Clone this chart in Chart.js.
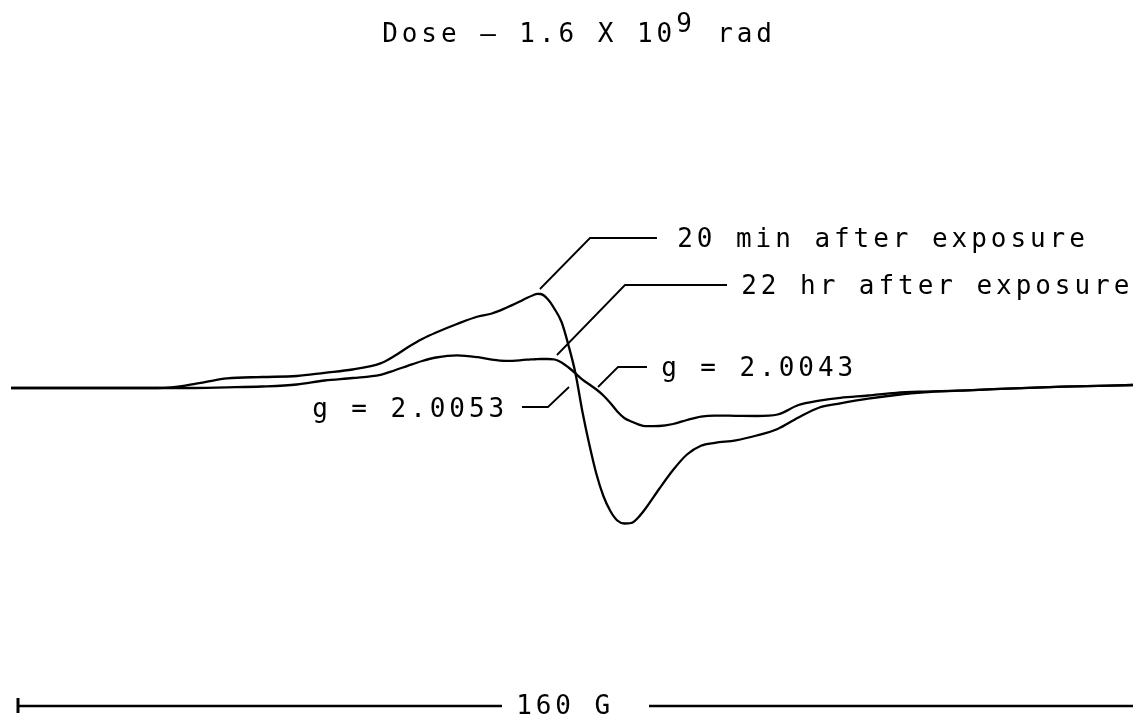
<!DOCTYPE html>
<html lang="en">
<head>
<meta charset="UTF-8">
<title>EPR spectrum - Dose 1.6 X 10^9 rad</title>
<script src="https://cdn.jsdelivr.net/npm/chart.js"></script>
<style>
  html, body { margin: 0; padding: 0; background: #fff; }
  #wrap { width: 1133px; height: 719px; }
</style>
</head>
<body>
<div id="wrap"><canvas id="epr"></canvas></div>
<script>
// magnetic field, G (0 = left end of the 160 G scale bar)
const field = [-1, 10, 20, 22, 24, 27, 30, 35, 40, 44, 48, 52, 54, 56, 58, 60, 63, 66, 68, 70, 72, 73, 74, 74.5, 75, 76, 77, 78, 79, 80, 81, 82, 83, 84, 85, 86, 87, 88, 89, 90, 92, 94, 96, 98, 100, 103, 106, 109, 112, 115, 118, 122, 126, 130, 135, 140, 150, 160];

// derivative signal, arbitrary units
const min20 = [0, 0, 0, 0.07, 0.24, 0.62, 0.96, 1.10, 1.20, 1.52, 1.85, 2.46, 3.2, 4.1, 4.9, 5.55, 6.4, 7.15, 7.45, 8.0, 8.65, 9.0, 9.3, 9.42, 9.4, 8.9, 7.9, 6.6, 4.25, 1.45, -2.4, -5.7, -8.6, -10.8, -12.3, -13.25, -13.55, -13.5, -12.95, -12.1, -10.1, -8.2, -6.65, -5.77, -5.48, -5.23, -4.75, -4.1, -2.95, -1.95, -1.54, -1.07, -0.7, -0.43, -0.27, -0.12, 0.13, 0.3];
const hr22 = [0, 0, 0, 0, 0, 0.02, 0.06, 0.15, 0.35, 0.75, 1.0, 1.32, 1.75, 2.24, 2.7, 3.05, 3.27, 3.08, 2.84, 2.72, 2.77, 2.83, 2.87, 2.89, 2.9, 2.9, 2.85, 2.55, 2.05, 1.47, 0.83, 0.35, -0.15, -0.75, -1.5, -2.35, -3.0, -3.35, -3.63, -3.82, -3.8, -3.6, -3.2, -2.86, -2.76, -2.78, -2.8, -2.65, -1.7, -1.27, -0.98, -0.75, -0.48, -0.36, -0.27, -0.12, 0.13, 0.3];

// labels and their leader lines (field G, signal)
const labelTexts = ['20 min after exposure', '22 hr after exposure', 'g = 2.0043', 'g = 2.0053'];
const labelX = [94.71, 103.9, 92.41, 42.33];
const labelY = [14.1, 9.4, 1.2, -2.9];
const leaderX = [[74.9, 82.08, 91.69], [77.34, 87.10, 101.74], [83.23, 86.10, 90.26], [79.07, 76.05, 72.32]];
const leaderY = [[9.9, 15.0, 15.0], [3.3, 10.3, 10.3], [0.1, 2.1, 2.1], [0.1, -1.9, -1.9]];

// 160 G scale bar
const barLength = 160;
const barLabel = '160 G';
const barY = -31.8;
const barGap = [69.45, 90.55];

const FONT = '26px "DejaVu Sans Mono", monospace';
const PITCH = 19.6;

function toPoints(xs, ys) {
    return xs.map((x, i) => ({ x: x, y: ys[i] }));
}

function drawMono(ctx, text, x, y) {
    for (let i = 0; i < text.length; i++) {
        ctx.fillText(text[i], x + i * PITCH + 7, y);
    }
}

const lineStyle = { showLine: true, pointRadius: 0, borderColor: '#000', borderWidth: 2.3, clip: false, tension: 0 };

const datasets = [
    Object.assign({}, lineStyle, { data: toPoints(field, min20), cubicInterpolationMode: 'monotone' }),
    Object.assign({}, lineStyle, { data: toPoints(field, hr22), cubicInterpolationMode: 'monotone' })
];
leaderX.forEach((xs, i) => {
    datasets.push(Object.assign({}, lineStyle, { data: toPoints(xs, leaderY[i]), borderWidth: 1.8 }));
});
datasets.push(Object.assign({}, lineStyle, { data: [{ x: 0, y: barY }, { x: barGap[0], y: barY }] }));
datasets.push(Object.assign({}, lineStyle, { data: [{ x: barGap[1], y: barY }, { x: barLength, y: barY }] }));
datasets.push(Object.assign({}, lineStyle, { data: [{ x: 0, y: barY + 0.8 }, { x: 0, y: barY - 0.7 }], borderWidth: 3 }));

const textPlugin = {
    id: 'plotText',
    afterDraw(chart) {
        const ctx = chart.ctx;
        const xs = chart.scales.x, ys = chart.scales.y;
        ctx.save();
        ctx.fillStyle = '#000';
        ctx.font = FONT;
        ctx.textAlign = 'center';
        ctx.textBaseline = 'alphabetic';

        // title
        drawMono(ctx, 'Dose \u2013 1.6 X 10', 383, 42);
        drawMono(ctx, '9', 677, 32);
        drawMono(ctx, 'rad', 718, 42);

        labelTexts.forEach((t, i) => {
            drawMono(ctx, t, xs.getPixelForValue(labelX[i]), ys.getPixelForValue(labelY[i]));
        });

        drawMono(ctx, barLabel, xs.getPixelForValue(71.6), ys.getPixelForValue(-32.6));
        ctx.restore();
    }
};

new Chart(document.getElementById('epr'), {
    type: 'scatter',
    data: { datasets: datasets },
    options: {
        responsive: true,
        maintainAspectRatio: false,
        animation: false,
        layout: { padding: 0 },
        scales: {
            x: { type: 'linear', min: -2.583, max: 160, display: false },
            y: { type: 'linear', min: -33.1, max: 38.8, display: false }
        },
        plugins: { legend: { display: false }, tooltip: { enabled: false } }
    },
    plugins: [textPlugin]
});
</script>
</body>
</html>
